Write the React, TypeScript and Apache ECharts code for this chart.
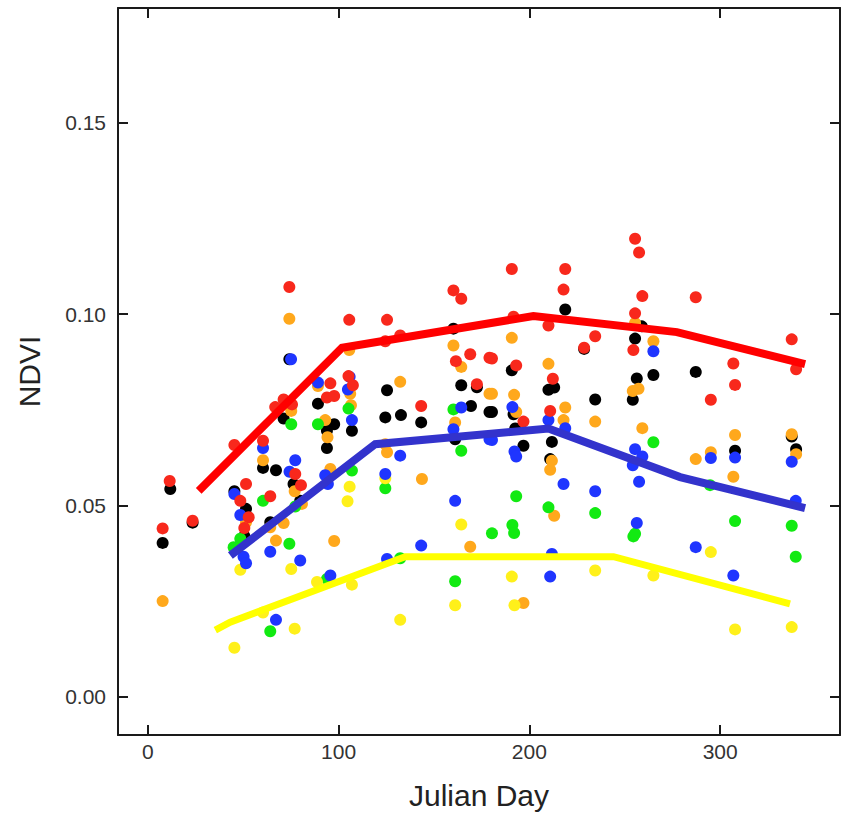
import React, { useEffect, useRef } from "react";
import * as echarts from "echarts";

const xTicks = [0, 100, 200, 300];
const yTicks = [0, 0.05, 0.1, 0.15];
const xName = "Julian Day";
const yName = "NDVI";

const blackPts = [
  [74.2, 0.0882], [160.2, 0.0962], [164.3, 0.0814], [172.5, 0.0809], [169.4, 0.076], [179.1, 0.0744],
  [161.1, 0.0673], [107.0, 0.0695], [125.4, 0.0801], [124.5, 0.073], [132.7, 0.0736], [143.3, 0.0717],
  [89.2, 0.0766], [97.7, 0.0712], [93.9, 0.0695], [93.9, 0.065], [71.2, 0.0727], [60.4, 0.0598],
  [67.2, 0.0592], [218.8, 0.1012], [258.9, 0.0968], [255.4, 0.0936], [228.7, 0.0909], [190.8, 0.0853],
  [210.0, 0.0802], [213.0, 0.0808], [256.3, 0.0832], [265.0, 0.0841], [254.2, 0.0776], [287.2, 0.0849],
  [234.5, 0.0777], [180.4, 0.0744], [191.7, 0.0738], [192.6, 0.0701], [196.9, 0.0656], [211.8, 0.0666],
  [210.9, 0.0621], [307.8, 0.0643], [337.5, 0.068], [339.8, 0.0647], [11.8, 0.0543], [7.8, 0.0402],
  [23.5, 0.0455], [45.4, 0.0537], [51.5, 0.0491], [50.6, 0.042], [76.4, 0.0556], [64.2, 0.0456],
  [79.9, 0.0512],
];

const orangePts = [
  [74.2, 0.0988], [105.6, 0.0906], [160.2, 0.0918], [164.3, 0.0862], [179.1, 0.0792], [161.1, 0.0717],
  [89.2, 0.0812], [106.1, 0.0792], [106.5, 0.0762], [132.3, 0.0823], [93.0, 0.0723], [94.2, 0.0678],
  [75.2, 0.0747], [60.4, 0.0618], [125.4, 0.0639], [124.5, 0.066], [95.7, 0.0595], [143.7, 0.0569],
  [190.8, 0.0938], [255.4, 0.0977], [265.0, 0.0929], [210.0, 0.087], [257.2, 0.0805], [254.2, 0.0799],
  [180.4, 0.0792], [192.0, 0.0789], [193.1, 0.0744], [217.9, 0.0723], [218.8, 0.0756], [234.5, 0.0719],
  [259.2, 0.0702], [211.8, 0.0617], [210.9, 0.0593], [307.8, 0.0684], [295.1, 0.0639], [287.2, 0.0621],
  [337.5, 0.0686], [339.8, 0.0634], [306.9, 0.0575], [213.0, 0.0473], [196.9, 0.0245], [7.8, 0.025],
  [51.5, 0.0456], [77.0, 0.0537], [64.2, 0.0443], [71.2, 0.0454], [80.8, 0.0504], [67.2, 0.0408],
  [97.7, 0.0407], [169.0, 0.0392],
];

const greenPts = [
  [160.2, 0.0751], [164.3, 0.0643], [105.2, 0.0753], [89.2, 0.0712], [75.2, 0.0712], [107.0, 0.0591],
  [265.0, 0.0665], [193.1, 0.0524], [210.0, 0.0495], [234.5, 0.048], [180.4, 0.0427], [191.1, 0.0449],
  [192.0, 0.0428], [254.5, 0.0419], [255.4, 0.0426], [294.7, 0.0553], [307.8, 0.0459], [337.5, 0.0447],
  [339.6, 0.0366], [48.5, 0.0413], [45.0, 0.0391], [60.4, 0.0512], [77.3, 0.0497], [124.5, 0.0545],
  [74.2, 0.04], [93.9, 0.0308], [132.3, 0.0362], [161.1, 0.0302], [64.2, 0.0171],
];

const yellowPts = [
  [124.5, 0.0571], [105.8, 0.0549], [104.7, 0.0511], [48.5, 0.0332], [75.2, 0.0334], [88.7, 0.03],
  [107.0, 0.0293], [164.3, 0.045], [161.1, 0.0239], [60.4, 0.022], [77.0, 0.0178], [45.4, 0.0128],
  [132.3, 0.0201], [295.1, 0.0378], [190.8, 0.0314], [234.5, 0.033], [265.0, 0.0317], [192.2, 0.0239],
  [307.8, 0.0176], [337.5, 0.0182],
];

const bluePts = [
  [75.1, 0.0882], [164.3, 0.0756], [160.2, 0.0699], [179.1, 0.0673], [89.2, 0.0821], [105.8, 0.0836],
  [104.9, 0.0803], [107.0, 0.0723], [60.4, 0.065], [77.3, 0.0618], [74.3, 0.0588], [132.3, 0.063],
  [124.5, 0.0582], [93.0, 0.0579], [94.4, 0.0556], [265.0, 0.0903], [191.1, 0.0757], [210.0, 0.0723],
  [218.8, 0.0702], [180.4, 0.0671], [192.2, 0.0641], [193.1, 0.0628], [255.4, 0.0647], [259.2, 0.0628],
  [254.2, 0.0605], [307.8, 0.0625], [295.1, 0.0624], [337.5, 0.0614], [217.9, 0.0556], [234.5, 0.0537],
  [257.5, 0.0562], [256.3, 0.0454], [339.6, 0.0512], [287.2, 0.0391], [211.8, 0.0373], [210.9, 0.0314],
  [306.9, 0.0317], [45.4, 0.053], [48.5, 0.0475], [64.2, 0.0379], [79.9, 0.0356], [50.2, 0.0366],
  [51.5, 0.0349], [95.7, 0.0317], [125.4, 0.036], [143.3, 0.0395], [161.1, 0.0512], [67.2, 0.0201],
];

const redPts = [
  [74.2, 0.1071], [105.6, 0.0985], [125.4, 0.0985], [124.5, 0.0929], [132.3, 0.0944], [160.2, 0.1062],
  [164.3, 0.104], [161.5, 0.0877], [169.0, 0.0895], [179.1, 0.0886], [172.5, 0.0817], [95.7, 0.0819],
  [93.9, 0.0782], [97.7, 0.0786], [105.2, 0.0838], [107.5, 0.0814], [143.3, 0.076], [71.2, 0.0777],
  [66.8, 0.0757], [75.6, 0.0764], [45.4, 0.0658], [60.4, 0.0669], [77.3, 0.0582], [11.5, 0.0564],
  [255.4, 0.1197], [257.5, 0.1161], [190.8, 0.1118], [218.8, 0.1118], [217.9, 0.1064], [191.7, 0.0993],
  [210.0, 0.097], [234.5, 0.0942], [228.7, 0.0912], [255.4, 0.1002], [254.5, 0.0906], [259.2, 0.1047],
  [287.2, 0.1044], [337.5, 0.0934], [339.8, 0.0856], [180.4, 0.0884], [193.1, 0.0866], [212.3, 0.0831],
  [306.9, 0.0871], [307.8, 0.0815], [295.1, 0.0776], [196.9, 0.0719], [210.9, 0.0747], [7.8, 0.044],
  [23.5, 0.046], [51.5, 0.0556], [48.5, 0.0512], [52.9, 0.0469], [50.6, 0.0441], [64.2, 0.0524],
  [80.3, 0.0553],
];

const redLine = [[26.7, 0.0538], [101.8, 0.0912], [202.1, 0.0995], [277.3, 0.0953], [344.5, 0.0869]];
const blueLine = [[43.3, 0.0369], [119.2, 0.066], [210.0, 0.0701], [279.0, 0.0574], [344.5, 0.0493]];
const yellowLine = [[35.4, 0.0174], [43.2, 0.0195], [134.9, 0.0366], [244.1, 0.0366], [336.6, 0.0243]];

const FONT = "Liberation Sans, Arial, sans-serif";

export default function App() {
  const ref = useRef<HTMLDivElement>(null);
  useEffect(() => {
    if (!ref.current) return;
    const chart = echarts.init(ref.current, undefined, { renderer: "svg" });
    const axisLine = { show: true, onZero: false, lineStyle: { color: "#1a1a1a", width: 2 } };
    const tick = (vals: number[]) => ({
      show: true,
      inside: true,
      length: 10,
      customValues: vals,
      lineStyle: { color: "#1a1a1a", width: 2 },
    });
    const xMin = -15.6;
    const xMax = 362.8;
    const yMin = -0.01;
    const yMax = 0.18;
    const scatter = (data: number[][], color: string) => ({
      type: "scatter",
      data,
      symbolSize: 12,
      itemStyle: { color, opacity: 1 },
      xAxisIndex: 0,
      yAxisIndex: 0,
      silent: true,
    });
    const line = (data: number[][], color: string, width: number) => ({
      type: "line",
      data,
      showSymbol: false,
      symbol: "none",
      lineStyle: { color, width, cap: "butt", join: "miter" },
      xAxisIndex: 0,
      yAxisIndex: 0,
      silent: true,
      z: 5,
    });
    chart.setOption({
      animation: false,
      grid: { left: 118, top: 8, right: 3, bottom: 78, containLabel: false },
      xAxis: [
        {
          type: "value",
          position: "bottom",
          min: xMin,
          max: xMax,
          axisLine,
          axisTick: tick(xTicks),
          splitLine: { show: false },
          axisLabel: {
            customValues: xTicks,
            margin: 6,
            fontSize: 21,
            fontFamily: FONT,
            color: "#333",
          },
          name: xName,
          nameLocation: "middle",
          nameGap: 45,
          nameTextStyle: { fontSize: 30, fontFamily: FONT, color: "#222" },
        },
        {
          type: "value",
          position: "top",
          min: xMin,
          max: xMax,
          axisLine,
          axisTick: tick(xTicks),
          splitLine: { show: false },
          axisLabel: { show: false },
        },
      ],
      yAxis: [
        {
          type: "value",
          position: "left",
          min: yMin,
          max: yMax,
          axisLine,
          axisTick: tick(yTicks),
          splitLine: { show: false },
          axisLabel: {
            customValues: yTicks,
            margin: 12,
            fontSize: 21,
            fontFamily: FONT,
            color: "#333",
            formatter: (v: number) => v.toFixed(2),
          },
          name: yName,
          nameLocation: "middle",
          nameRotate: 90,
          nameGap: 74,
          nameTextStyle: { fontSize: 30, fontFamily: FONT, color: "#222" },
        },
        {
          type: "value",
          position: "right",
          min: yMin,
          max: yMax,
          axisLine,
          axisTick: tick(yTicks),
          splitLine: { show: false },
          axisLabel: { show: false },
        },
      ],
      series: [
        scatter(blackPts, "#000000"),
        scatter(orangePts, "#ffa81c"),
        scatter(greenPts, "#12ea12"),
        scatter(yellowPts, "#fff01a"),
        scatter(bluePts, "#1f35ff"),
        scatter(redPts, "#f8281c"),
        line(yellowLine, "#ffff00", 7),
        line(blueLine, "#3333cc", 8),
        line(redLine, "#ff0000", 8),
      ],
    });
    return () => chart.dispose();
  }, []);
  return (
    <div
      ref={ref}
      style={{ position: "fixed", left: 0, top: 0, width: 843, height: 815, background: "#fff" }}
    />
  );
}
